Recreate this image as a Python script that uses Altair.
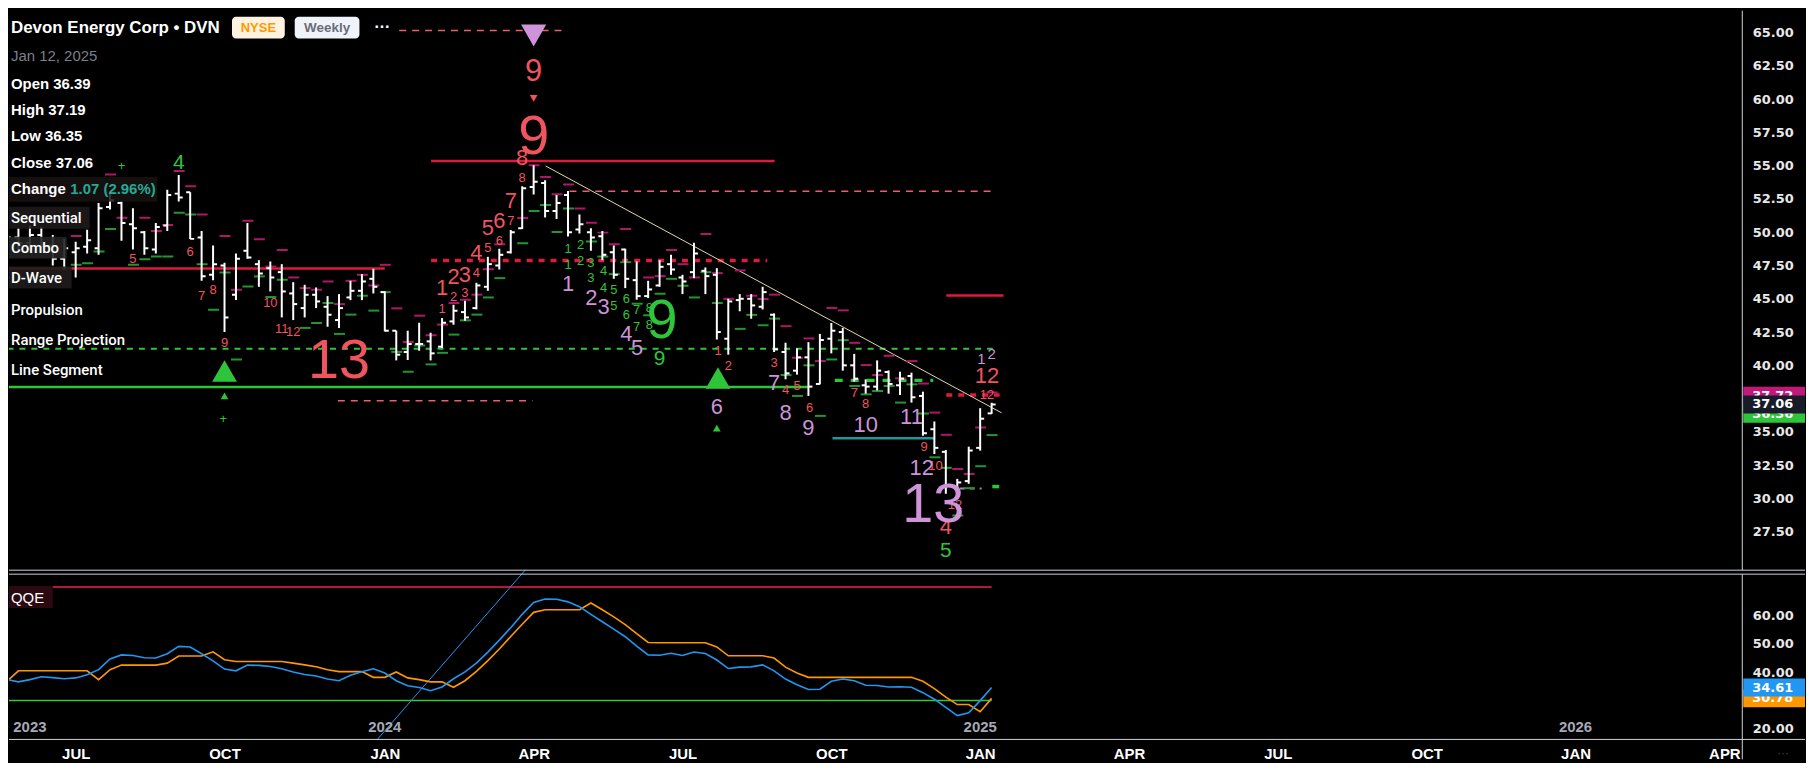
import altair as alt
import pandas as pd

# ---------------------------------------------------------------- data
LAST_BAR = "2025-01-12"            # date of the last weekly bar
bars_back = list(range(86, -1, -1))  # bars counted back from the last one

bar_high = [
    50.0, 50.3, 50.5, 50.4, 49.8, 49.5, 49.29, 50.19, 52.2, 53.0,
    52.3, 51.8, 50.1, 50.7, 53.2, 54.3, 53.0, 50.1, 49.0, 47.7,
    48.4, 50.7, 47.9, 47.8, 47.6, 46.25, 46.05, 45.85, 45.2, 45.35,
    46.35, 46.85, 47.25, 45.55, 42.6, 42.6, 43.2, 42.45, 43.55, 44.55,
    44.85, 46.2, 48.15, 48.75, 50.17, 53.46, 55.03, 53.9, 52.8, 53.1,
    51.33, 50.3, 50.1, 49.0, 48.75, 47.8, 46.35, 47.9, 48.3, 46.8,
    49.2, 47.35, 47.3, 45.0, 45.35, 45.35, 45.9, 43.9, 41.7, 41.27,
    41.74, 42.36, 43.18, 42.8, 40.86, 38.95, 40.37, 39.62, 39.52, 39.45,
    38.02, 35.78, 33.64, 31.47, 33.89, 36.78, 37.19]
bar_low = [
    47.6, 48.5, 48.6, 48.8, 47.5, 47.2, 46.6, 48.4, 48.3, 51.7,
    49.35, 48.7, 48.3, 48.4, 50.1, 52.3, 49.5, 46.35, 46.4, 42.5,
    44.9, 48.0, 45.9, 45.55, 43.6, 43.4, 43.6, 44.3, 42.9, 42.8,
    44.9, 44.9, 45.4, 42.55, 40.37, 40.4, 41.1, 40.37, 41.3, 43.05,
    43.35, 44.2, 45.6, 47.2, 48.4, 50.24, 52.83, 51.1, 51.0, 49.67,
    49.9, 48.6, 47.9, 46.5, 45.8, 44.93, 45.05, 45.9, 46.8, 45.35,
    46.55, 45.35, 41.94, 40.8, 44.06, 43.5, 44.2, 41.0, 38.95, 39.3,
    37.7, 38.57, 40.9, 39.6, 38.78, 37.87, 38.12, 37.87, 37.77, 37.2,
    34.71, 33.34, 30.35, 30.22, 31.1, 33.59, 36.35]
bar_open = [
    48.2, 49.6, 49.2, 49.8, 49.0, 48.0, 48.5, 48.9, 48.8, 51.9,
    52.2, 50.6, 50.0, 48.7, 50.5, 52.9, 53.0, 49.6, 46.8, 47.5,
    45.3, 48.6, 47.6, 47.3, 47.0, 45.4, 44.3, 45.3, 44.4, 43.4,
    45.1, 45.6, 46.5, 45.5, 42.6, 41.0, 41.6, 41.8, 41.4, 43.3,
    44.0, 44.3, 45.9, 47.5, 48.5, 50.3, 53.4, 53.7, 51.6, 52.8,
    50.2, 50.0, 49.7, 48.5, 48.7, 46.4, 45.2, 46.0, 47.6, 46.6,
    47.0, 47.1, 46.8, 42.0, 44.9, 45.0, 44.4, 43.8, 41.0, 39.6,
    40.6, 38.6, 42.0, 42.5, 40.0, 38.5, 38.4, 39.5, 38.5, 39.2,
    37.7, 35.2, 33.5, 30.8, 31.3, 33.8, 36.39]
bar_close = [
    49.6, 49.2, 49.8, 49.0, 48.0, 48.8, 48.8, 49.4, 51.8, 52.4,
    50.7, 50.3, 48.8, 50.4, 52.8, 52.6, 49.5, 46.7, 47.6, 43.6,
    48.0, 48.1, 46.9, 46.6, 45.55, 44.6, 45.3, 44.8, 43.8, 44.3,
    45.6, 46.3, 45.9, 42.6, 40.8, 41.6, 41.6, 40.9, 43.2, 44.1,
    43.6, 46.0, 47.6, 48.3, 50.0, 53.3, 53.8, 51.6, 52.2, 50.0,
    50.6, 49.6, 48.3, 46.8, 46.5, 45.2, 45.7, 47.4, 47.2, 46.3,
    48.4, 46.7, 42.5, 44.8, 45.0, 44.5, 45.5, 41.2, 39.4, 40.6,
    38.4, 41.9, 42.6, 40.0, 39.0, 38.4, 39.6, 38.6, 39.0, 37.6,
    34.9, 33.8, 31.0, 31.2, 33.6, 35.99, 37.06]

qqe_fast = [
    37.4, 36.6, 37.4, 38.4, 38.1, 37.7, 38.0, 39.1, 40.9, 44.7,
    46.1, 45.9, 45.1, 45.0, 46.5, 49.1, 48.9, 46.5, 44.0, 41.1,
    40.5, 42.5, 42.4, 42.0, 41.2, 40.1, 39.2, 38.7, 37.6, 37.0,
    38.9, 40.2, 41.2, 39.7, 37.0, 35.2, 34.6, 33.5, 34.8, 37.7,
    40.1, 43.2, 47.1, 51.3, 55.7, 60.4, 64.6, 65.8, 65.7, 64.8,
    63.1, 60.4, 57.8, 55.2, 52.5, 49.2, 46.1, 46.0, 46.7, 45.9,
    47.1, 46.6, 44.3, 41.3, 41.8, 41.9, 42.6, 40.5, 37.6, 35.6,
    33.9, 34.0, 36.8, 37.6, 37.0, 35.4, 35.3, 34.8, 34.9, 34.7,
    32.8, 30.5, 27.6, 24.7, 25.7, 30.0, 34.61]
qqe_slow = [
    36.8, 40.5, 40.5, 40.5, 40.5, 40.5, 40.5, 40.5, 37.4, 40.9,
    42.5, 42.5, 42.5, 42.5, 43.2, 45.7, 45.7, 45.7, 47.2, 44.4,
    43.8, 43.8, 43.8, 43.8, 43.8, 43.2, 42.6, 41.9, 40.9, 40.2,
    40.2, 40.2, 38.2, 38.2, 40.1, 38.0, 37.4, 36.6, 36.6, 34.7,
    37.0, 40.3, 44.1, 48.2, 52.6, 56.9, 61.1, 62.0, 62.0, 62.0,
    62.0, 64.4, 62.0, 59.5, 56.8, 53.6, 50.5, 50.4, 50.4, 50.4,
    50.4, 50.4, 48.9, 45.8, 45.8, 45.8, 45.8, 45.0, 41.8, 39.7,
    38.2, 38.2, 38.2, 38.2, 38.2, 38.2, 38.2, 38.2, 38.2, 38.2,
    36.8, 34.2, 31.2, 28.6, 28.6, 26.1, 30.78]

# small level dashes drawn at bars (bar index back, price)
mag_k = [86, 80, 77, 76, 74, 73, 72, 71, 70, 69, 67, 66, 65, 64, 63, 62, 61, 60, 59, 58,
         57, 56, 55, 54, 53, 52, 51, 50, 49, 48, 47, 46, 45, 44, 43, 41, 40, 39, 38, 37,
         36, 35, 34, 33, 32, 30, 29, 28, 27, 26, 25, 24, 23, 22, 21, 20, 19, 18, 17, 16,
         15, 14, 13, 12, 11, 10, 9, 8, 7, 6, 5, 4, 3, 2, 1, 0]
mag_p = [51.09, 49.72, 54.33, 51.09, 51.09, 50.1, 50.55, 54.6, 53.46, 51.34,
         49.72, 45.68, 50.86, 49.47, 47.42, 48.67, 46.6, 45.8, 45.68, 46.3,
         44.6, 46.35, 46.8, 46.0, 47.55, 44.28, 41.76, 43.73, 42.26, 43.06,
         44.68, 44.93, 45.31, 47.22, 49.1, 51.06, 55.03, 54.15, 52.86, 53.58,
         51.78, 50.71, 49.97, 49.1, 50.24, 46.6, 46.7, 48.67, 47.6, 46.6,
         49.87, 46.93, 45.0, 47.13, 45.23, 44.98, 45.31, 42.94, 40.57, 42.02,
         40.32, 44.31, 44.13, 41.69, 40.02, 39.27, 40.72, 39.02, 40.32, 38.63,
         36.45, 34.78, 32.21, 31.84, 35.33, 37.96]
grn_k = [80, 79, 78, 77, 75, 74, 73, 72, 71, 70, 69, 68, 67, 66, 65, 64, 63, 62, 60, 59,
         58, 57, 56, 55, 54, 53, 52, 51, 50, 49, 48, 47, 46, 45, 44, 43, 41, 40, 39, 38,
         37, 35, 34, 33, 32, 31, 30, 29, 28, 27, 26, 25, 24, 22, 21, 20, 19, 18, 17, 16,
         15, 14, 13, 12, 11, 10, 9, 8, 7, 6, 5, 4, 3, 2, 1, 0]
grn_p = [47.55, 47.67, 48.55, 50.24, 47.55, 47.97, 48.17, 48.17, 51.46, 51.34,
         47.6, 44.18, 46.97, 40.44, 45.93, 46.68, 45.13, 46.43, 42.81, 43.18,
         44.68, 42.36, 43.81, 45.23, 44.11, 45.5, 41.01, 39.52, 41.49, 40.07,
         40.94, 42.31, 43.38, 43.81, 45.1, 46.55, 49.17, 51.6, 52.04, 50.02,
         51.78, 49.3, 48.17, 46.85, 47.75, 44.63, 43.76, 45.38, 46.5, 45.98,
         45.1, 47.0, 44.68, 42.74, 43.79, 43.01, 43.51, 39.27, 37.7, 40.0,
         36.2, 40.44, 41.89, 38.45, 37.82, 38.07, 38.45, 37.2, 38.57, 36.38,
         33.09, 32.3, 28.72, 30.77, 32.42, 34.76]

# count labels: (text, bar index back, price)
red_small = [("5", 75.0, 47.95), ("6", 70.0, 48.55), ("7", 69.0, 45.18), ("8", 68.0, 45.63),
             ("9", 67.0, 41.66), ("10", 63.0, 44.66), ("11", 62.0, 42.71), ("12", 61.0, 42.49),
             ("1", 48.0, 44.26), ("2", 47.0, 45.13), ("3", 46.0, 45.43), ("4", 45.0, 46.92),
             ("5", 44.0, 48.79), ("6", 43.0, 49.37), ("7", 42.0, 50.84), ("8", 41.0, 54.1),
             ("1", 23.9, 41.07), ("2", 23.0, 39.94), ("3", 19.0, 40.19), ("4", 18.0, 38.13),
             ("5", 17.0, 38.45), ("6", 15.9, 36.83), ("7", 12.0, 37.9), ("8", 11.0, 37.08),
             ("9", 5.9, 33.89), ("10", 4.9, 32.47), ("12", 3.2, 29.47), ("12", 0.4, 37.78)]
red_med = [("1", 48.0, 45.8), ("2", 47.0, 46.65), ("3", 46.0, 46.8), ("4", 45.0, 48.42),
           ("5", 44.0, 50.29), ("6", 43.0, 50.84), ("7", 42.0, 52.34), ("8", 41.0, 55.58),
           ("12", 0.4, 39.2), ("4", 4.0, 27.85)]
red_mid = [("9", 40.0, 62.0)]
red_big = [("9", 40.0, 57.15), ("13", 57.0, 40.32)]
purple_med = [("1", 37.0, 46.08), ("2", 34.96, 45.03), ("3", 33.9, 44.36), ("4", 31.9, 42.34),
              ("5", 30.96, 41.29), ("6", 24.0, 36.83), ("7", 19.0, 38.7), ("8", 18.0, 36.45),
              ("9", 16.0, 35.28), ("10", 11.0, 35.53), ("11", 7.0, 36.08), ("12", 6.1, 32.3)]
purple_small = [("1", 0.9, 40.44), ("2", 0.0, 40.82)]
purple_big = [("13", 5.1, 29.47)]
green_small = [("1", 37.0, 48.77), ("1", 37.0, 47.57), ("2", 35.9, 49.07), ("2", 35.9, 47.87),
               ("3", 35.0, 47.72), ("3", 35.0, 46.53), ("4", 33.9, 47.12), ("4", 33.9, 45.78),
               ("5", 33.0, 45.63), ("5", 33.0, 44.43), ("6", 31.9, 44.96), ("6", 31.9, 43.76),
               ("7", 31.0, 44.13), ("7", 31.0, 42.86), ("8", 29.9, 44.28), ("8", 29.9, 43.01),
               ("+", 76.0, 54.98), ("+", 67.1, 35.98)]
green_med = [("4", 71.0, 55.2), ("9", 29.0, 40.47), ("5", 4.0, 26.06)]
green_big = [("9", 28.8, 43.31)]

tri_purple_down = [(40.0, 64.78)]
tri_red_down = [(40.0, 60.06)]
tri_green_up_big = [(67.0, 39.57), (23.9, 39.05)]
tri_green_up_small = [(67.0, 37.7), (24.0, 35.28)]

# horizontal levels: (from bar back, to bar back, price)
lv_red_solid = [(87.0, 53.0, 47.27), (48.96, 18.96, 55.35), (3.96, -1.04, 45.25)]
lv_red_dash = [(48.96, 19.6, 47.87), (3.96, -0.7, 37.77)]
lv_pink_dash = [(51.74, 37.48, 65.15), (36.87, 0.0, 53.07), (57.1, 40.1, 37.33)]
lv_green_dash = [(87.0, -0.1, 41.25)]
lv_green_thick = [(13.7, 5.1, 38.87), (-0.06, -0.66, 30.89)]
lv_green_solid = [(87.0, 16.0, 38.37)]
lv_teal = [(13.9, 4.96, 34.53)]
lv_purple_dash = [(2.78, 0.87, 30.75)]
trend_k = [38.96, -0.87]
trend_p = [54.98, 36.43]

qqe_upper = [(87.0, 0.0, 70.0)]
qqe_lower = [(87.0, 0.0, 30.0)]
qqe_diag_k = [55.0, 40.0]
qqe_diag_v = [10.1, 79.4]

price_ticks = [27.5, 30.0, 32.5, 35.0, 40.0, 42.5, 45.0, 47.5, 50.0, 52.5, 55.0, 57.5, 60.0, 62.5, 65.0]
qqe_ticks = [20, 40, 50, 60]
month_ticks = ["2023-07-02", "2023-10-01", "2024-01-07", "2024-04-07", "2024-07-07", "2024-10-06",
               "2025-01-05", "2025-04-06", "2025-07-06", "2025-10-05", "2026-01-04", "2026-04-05"]
year_text = ["2024", "2025", "2026"]
year_dates = ["2024-01-07", "2025-01-05", "2026-01-04"]

price_badges = [("37.72", 37.72, "#c2187a"), ("36.36", 36.36, "#2fc53a"), ("37.06", 37.06, "#181c28")]
qqe_badges = [("30.78", 30.78, "#ff9800"), ("34.61", 34.61, "#2196f3")]

title_text = "Devon Energy Corp • DVN"
date_text = "Jan 12, 2025"
ohlc_rows = ["Open 36.39", "High 37.19", "Low 36.35", "Close 37.06"]
change_value = "1.07 (2.96%)"
indicator_rows = ["Sequential", "Combo", "D-Wave", "Propulsion", "Range Projection", "Line Segment"]

# ---------------------------------------------------------------- helpers
DAY_MS = 86_400_000
WEEK_MS = 7 * DAY_MS
LAST_MS = int(pd.Timestamp(LAST_BAR, tz="UTC").value // 10**6)


def tms(k):
    return float(LAST_MS - k * WEEK_MS)


def dms(d):
    return int(pd.Timestamp(d, tz="UTC").value // 10**6)


XMIN = LAST_MS - 600.77 * DAY_MS
XMAX = LAST_MS + 458.95 * DAY_MS
XS = alt.Scale(type="utc", domain=[XMIN, XMAX])
PS = alt.Scale(domain=[24.61, 66.645], nice=False, zero=False)
QS = alt.Scale(domain=[16.32, 75.96], nice=False, zero=False)

AX_FONT = "DejaVu Sans"
LBL_FONT = "Liberation Sans"
W, HT, HB = 1741, 562, 170

p_axis = alt.Axis(orient="right", values=price_ticks, format=".2f", labelFont=AX_FONT,
                  labelFontSize=13, labelFontWeight="bold", labelColor="#e8e8e8",
                  labelPadding=10, ticks=False, domain=False, grid=False, title=None)
q_axis = alt.Axis(orient="right", values=qqe_ticks, format=".2f", labelFont=AX_FONT,
                  labelFontSize=13, labelFontWeight="bold", labelColor="#e8e8e8",
                  labelPadding=10, ticks=False, domain=False, grid=False, title=None)
x_axis = alt.Axis(values=[dms(d) for d in month_ticks],
                  labelExpr="upper(utcFormat(datum.value, '%b'))",
                  labelFont=LBL_FONT, labelFontSize=15, labelFontWeight="bold",
                  labelColor="#ffffff", labelPadding=14, labelBaseline="middle",
                  ticks=False, tickSize=0, domain=False, grid=False, title=None,
                  labelFlush=False, labelOverlap=False)


def XT(f="t"):
    return alt.X(f"{f}:T", scale=XS, axis=None)


def XB(f="t"):
    return alt.X(f"{f}:T", scale=XS, axis=x_axis)


def YP(f="p"):
    return alt.Y(f"{f}:Q", scale=PS, axis=p_axis)


def YQ(f="p"):
    return alt.Y(f"{f}:Q", scale=QS, axis=q_axis)


def seg_layer(items, color, width, yenc, xenc, dash=None, clip=True):
    df = pd.DataFrame({"t0": [tms(a) for a, b, c in items],
                       "t1": [tms(b) for a, b, c in items],
                       "p": [c for a, b, c in items]})
    kw = dict(color=color, strokeWidth=width, clip=clip)
    if dash:
        kw["strokeDash"] = dash
    return alt.Chart(df).mark_rule(**kw).encode(x=xenc("t0"), x2=alt.X2("t1"), y=yenc("p"))


def text_layer(items, color, size, weight="normal", font=LBL_FONT):
    df = pd.DataFrame({"s": [a for a, b, c in items],
                       "t": [tms(b) for a, b, c in items],
                       "p": [c for a, b, c in items]})
    return alt.Chart(df).mark_text(color=color, fontSize=size, font=font, fontWeight=weight,
                                   align="center", baseline="middle").encode(
        x=XT("t"), y=YP("p"), text="s:N")


def tri_layer(items, shape, size, color):
    df = pd.DataFrame({"t": [tms(a) for a, b in items], "p": [b for a, b in items]})
    return alt.Chart(df).mark_point(shape=shape, size=size, filled=True, color=color,
                                    opacity=1, strokeWidth=0).encode(x=XT("t"), y=YP("p"))


def stext(s, x, y, size, color="#ffffff", weight="normal", font=LBL_FONT, align="left"):
    return alt.Chart(pd.DataFrame({"s": [s]})).mark_text(
        color=color, fontSize=size, fontWeight=weight, font=font, align=align,
        baseline="middle").encode(x=alt.value(x), y=alt.value(y), text="s:N")


def srect(x, y, x2, y2, color, radius=0, opacity=1.0):
    return alt.Chart(pd.DataFrame({"a": [0]})).mark_rect(
        color=color, cornerRadius=radius, opacity=opacity).encode(
        x=alt.value(x), x2=alt.value(x2), y=alt.value(y), y2=alt.value(y2))


def srule(x, y, x2, y2, color, width=1.0):
    return alt.Chart(pd.DataFrame({"a": [0]})).mark_rule(
        color=color, strokeWidth=width).encode(
        x=alt.value(x), x2=alt.value(x2), y=alt.value(y), y2=alt.value(y2))


def badge_layers(items, yenc):
    out = []
    for s, v, c in items:
        df = pd.DataFrame({"s": [s], "p": [v]})
        out.append(alt.Chart(df).mark_rect(color=c, yOffset=-9, y2Offset=9).encode(
            x=alt.value(W + 1), x2=alt.value(W + 63), y=yenc("p"), y2=alt.Y2("p")))
        out.append(alt.Chart(df).mark_text(color="#ffffff", font=AX_FONT, fontSize=13,
                                           fontWeight="bold", align="left", baseline="middle").encode(
            x=alt.value(W + 10), y=yenc("p"), text="s:N"))
    return out


# ---------------------------------------------------------------- top panel
bdf = pd.DataFrame({"t": [tms(k) for k in bars_back], "o": bar_open, "h": bar_high,
                    "l": bar_low, "c": bar_close})
BAR = "#ffffff"
bars_hl = alt.Chart(bdf).mark_rule(color=BAR, strokeWidth=2, clip=True).encode(
    x=XT("t"), y=YP("h"), y2=alt.Y2("l"))
bars_o = alt.Chart(bdf).mark_rule(color=BAR, strokeWidth=2, xOffset=-4, x2Offset=0, clip=True).encode(
    x=XT("t"), x2=alt.X2("t"), y=YP("o"))
bars_c = alt.Chart(bdf).mark_rule(color=BAR, strokeWidth=2, xOffset=0, x2Offset=4, clip=True).encode(
    x=XT("t"), x2=alt.X2("t"), y=YP("c"))

mdf = pd.DataFrame([{"t": tms(k), "p": p} for k, p in zip(mag_k, mag_p)])
gdf = pd.DataFrame([{"t": tms(k), "p": p} for k, p in zip(grn_k, grn_p)])
mag_dash = alt.Chart(mdf).mark_rule(color="#b0176a", strokeWidth=2, xOffset=-5, x2Offset=6, clip=True).encode(
    x=XT("t"), x2=alt.X2("t"), y=YP("p"))
grn_dash = alt.Chart(gdf).mark_rule(color="#23962f", strokeWidth=2, xOffset=-5, x2Offset=6, clip=True).encode(
    x=XT("t"), x2=alt.X2("t"), y=YP("p"))

tdf = pd.DataFrame({"t": [tms(k) for k in trend_k], "p": trend_p})
trend = alt.Chart(tdf).mark_line(color="#e6dba4", strokeWidth=1, clip=True).encode(x=XT("t"), y=YP("p"))

RED = "#f0545f"
PUR = "#ce93d8"
GRN = "#2fc53a"

top_layers = [
    seg_layer(lv_green_solid, GRN, 2.5, YP, XT),
    seg_layer(lv_green_dash, GRN, 2, YP, XT, dash=[6, 6]),
    seg_layer(lv_red_solid, "#e0193f", 2.5, YP, XT),
    seg_layer(lv_red_dash, "#e0193f", 3.5, YP, XT, dash=[6, 6]),
    seg_layer(lv_pink_dash, "#e8606f", 1.5, YP, XT, dash=[7, 6]),
    seg_layer(lv_green_thick, GRN, 3.5, YP, XT, dash=[8, 8]),
    seg_layer(lv_teal, "#1a9aa0", 2.5, YP, XT),
    seg_layer(lv_purple_dash, "#a58bb0", 2, YP, XT, dash=[5, 5]),
    trend, mag_dash, grn_dash, bars_hl, bars_o, bars_c,
    text_layer(red_small, RED, 13),
    text_layer(red_med, RED, 22),
    text_layer(red_mid, RED, 31),
    text_layer(red_big, RED, 56),
    text_layer(purple_small, PUR, 15),
    text_layer(purple_med, PUR, 22),
    text_layer(purple_big, PUR, 56),
    text_layer(green_small, GRN, 13),
    text_layer(green_med, GRN, 21),
    text_layer(green_big, GRN, 56),
    tri_layer(tri_purple_down, "triangle-down", 640, PUR),
    tri_layer(tri_red_down, "triangle-down", 60, RED),
    tri_layer(tri_green_up_big, "triangle-up", 620, GRN),
    tri_layer(tri_green_up_small, "triangle-up", 60, GRN),
    # legend / header
    srect(0, 167, 149, 192, "#1a1212", opacity=0.85),
    srect(0, 197, 81, 219, "#1e1a1c", opacity=0.9),
    srect(0, 227, 58, 249, "#222222", opacity=0.9),
    srect(0, 257, 63, 279, "#1e1c1c", opacity=0.9),
    stext(title_text, 2, 17.5, 17, weight="bold"),
    srect(224, 6, 277, 28, "#fff3e0", radius=4),
    stext("NYSE", 250.5, 17.5, 13, color="#ff9800", weight="bold", align="center"),
    srect(287, 6, 352, 28, "#f0f3fa", radius=4),
    stext("Weekly", 319.5, 17.5, 13.5, color="#6a6d78", weight="bold", align="center"),
    stext("···", 375, 16, 16, weight="bold", align="center"),
    stext(date_text, 2, 46, 15, color="#7c7f8a"),
]
for i, row in enumerate(ohlc_rows):
    top_layers.append(stext(row, 2, [73.7, 99.3, 126.3, 153.0][i], 15, weight="bold"))
top_layers.append(stext("Change", 2, 178.7, 15, weight="bold"))
top_layers.append(stext(change_value, 61.5, 178.7, 15, color="#22ab94", weight="bold"))
for i, row in enumerate(indicator_rows):
    top_layers.append(stext(row, 2, [208, 238, 268.7, 300.3, 331.3, 361.3][i], 15,
                            weight=500, font="Roboto"))
top_layers.append(srule(W, 0, W, HT, "#cfd2da", 1))
top_layers += badge_layers(price_badges, YP)

top = alt.layer(*top_layers).properties(width=W, height=HT)

# ---------------------------------------------------------------- QQE panel
qdf = pd.DataFrame({"t": [tms(k) for k in bars_back], "fast": qqe_fast, "slow": qqe_slow})
ddf = pd.DataFrame({"t": [tms(k) for k in qqe_diag_k], "v": qqe_diag_v})
ydf = pd.DataFrame({"s": year_text, "t": [dms(d) for d in year_dates]})

bottom_layers = [
    seg_layer(qqe_upper, "#b5173c", 2, YQ, XB),
    seg_layer(qqe_lower, "#3bc43b", 1.5, YQ, XB),
    alt.Chart(ddf).mark_line(color="#2196f3", strokeWidth=1, clip=True).encode(x=XB("t"), y=YQ("v")),
    alt.Chart(qdf).mark_line(color="#ff9800", strokeWidth=1.6, clip=True).encode(x=XB("t"), y=YQ("slow")),
    alt.Chart(qdf).mark_line(color="#2196f3", strokeWidth=1.6, clip=True).encode(x=XB("t"), y=YQ("fast")),
    alt.Chart(ydf).mark_text(color="#a5a9b8", font=LBL_FONT, fontSize=15, fontWeight="bold",
                             align="center", baseline="middle").encode(
        x=XB("t"), y=alt.value(158), text="s:N"),
    stext("2023", 21, 158, 15, color="#a5a9b8", weight="bold", align="center"),
    srect(0, 16, 44, 38, "#2a0a10"),
    stext("QQE", 2, 27.5, 15),
    srule(0, 0, W + 63, 0, "#cfd2da", 1),
    srule(0, 4, W + 63, 4, "#cfd2da", 1),
    srule(0, HB, W + 63, HB, "#cfd2da", 1),
    srule(W, 4, W, 190, "#cfd2da", 1),
    stext("···", W + 41, 184, 12, color="#434651", align="center"),
]
bottom_layers += badge_layers(qqe_badges, YQ)
bottom = alt.layer(*bottom_layers).properties(width=W, height=HB)

chart = alt.vconcat(top, bottom, spacing=0, bounds="flush", padding=0,
                    background="#000000").configure_view(stroke=None)

chart.save("out.html", embed_options={"renderer": "svg", "actions": False})
